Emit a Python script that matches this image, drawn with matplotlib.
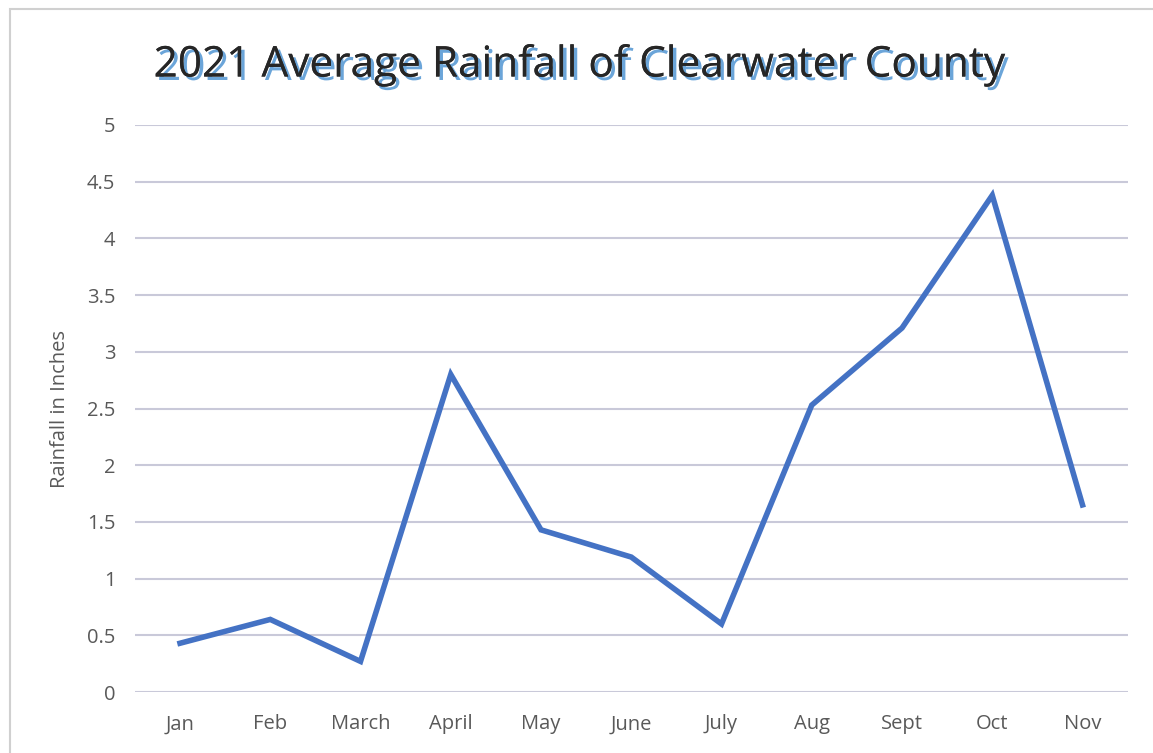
import matplotlib.pyplot as plt
import matplotlib.patheffects as pe
from matplotlib.patches import Rectangle

months = ['Jan', 'Feb', 'March', 'April', 'May', 'June', 'July', 'Aug', 'Sept', 'Oct', 'Nov']
rainfall = [0.43, 0.64, 0.27, 2.80, 1.43, 1.19, 0.60, 2.53, 3.21, 4.38, 1.65]
yticks = [0, 0.5, 1, 1.5, 2, 2.5, 3, 3.5, 4, 4.5, 5]
ytick_labels = ['0', '0.5', '1', '1.5', '2', '2.5', '3', '3.5', '4', '4.5', '5']

plt.rcParams['font.family'] = ['Open Sans', 'DejaVu Sans']

fig = plt.figure(figsize=(11.53, 7.53), dpi=100)
ax = fig.add_axes([0.117, 0.081, 0.861, 0.753])

# chart border (light gray frame, starts a little inside the image)
fig.patches.append(Rectangle((10 / 1153, -0.05), 1.1, 1 - 9 / 753 + 0.05,
                             transform=fig.transFigure, fill=False,
                             edgecolor='#d0d0d0', linewidth=1.5))

x = range(len(months))
ax.plot(x, rainfall, color='#4472c4', linewidth=4, solid_joinstyle='miter')

ax.set_xlim(-0.5, len(months) - 0.5)
ax.set_ylim(0, 5)
ax.set_xticks(list(x))
ax.set_xticklabels(months)
ax.set_yticks(yticks)
ax.set_yticklabels(ytick_labels)
ax.tick_params(length=0, labelsize=14.5, colors='#595959', pad=14)
ax.tick_params(axis='x', pad=16)
ax.grid(axis='y', color='#c9c9d9', linewidth=1.5)
ax.set_axisbelow(True)
for s in ax.spines.values():
    s.set_visible(False)

ax.set_ylabel('Rainfall in Inches', fontsize=14.5, color='#595959', labelpad=12)

fig.text(0.503, 0.913, '2021 Average Rainfall of Clearwater County',
         ha='center', va='center', fontsize=30.5, color='#262626',
         path_effects=[pe.withSimplePatchShadow(offset=(2.5, -2.5),
                                                shadow_rgbFace='#5b9bd5', alpha=0.9),
                       pe.Normal()])

fig.savefig('out.png', dpi=100)
